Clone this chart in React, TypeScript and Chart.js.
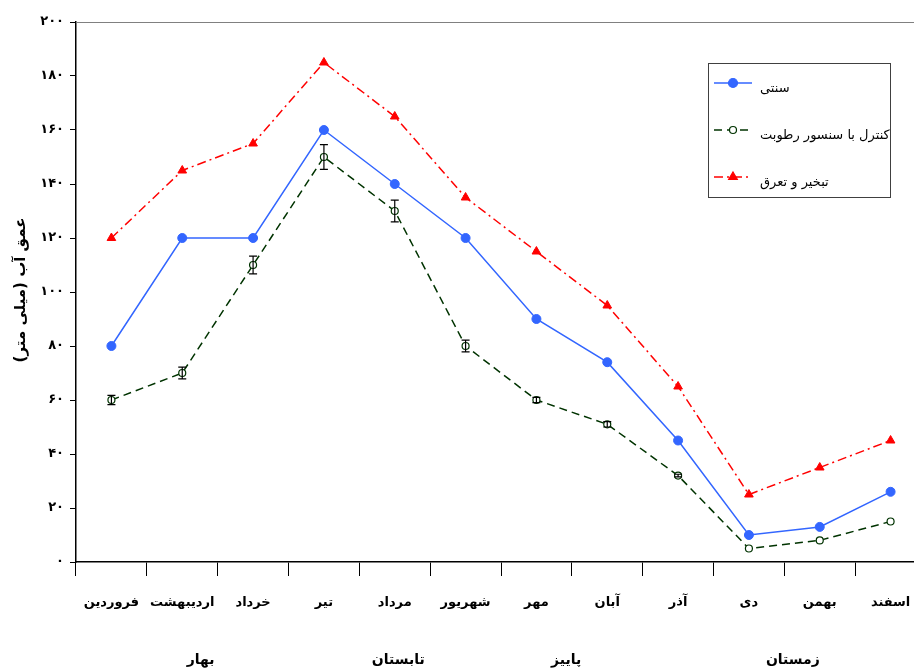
import React, { useEffect, useRef } from "react";
import { Chart, registerables } from "chart.js";

Chart.register(...registerables);

const months = ["فروردین", "اردیبهشت", "خرداد", "تیر", "مرداد", "شهریور", "مهر", "آبان", "آذر", "دی", "بهمن", "اسفند"];
const traditional = [80, 120, 120, 160, 140, 120, 90, 74, 45, 10, 13, 26];
const sensor = [60, 70, 110, 150, 130, 80, 60, 51, 32, 5, 8, 15];
const sensorError = [1.7, 2.2, 3.3, 4.6, 4, 2.2, 1, 1, 0.5, 0, 0, 0];
const evapotranspiration = [120, 145, 155, 185, 165, 135, 115, 95, 65, 25, 35, 45];
const seriesNames = ["سنتی", "کنترل با سنسور رطوبت", "تبخیر و تعرق"];
const yTickLabels = ["۰", "۲۰", "۴۰", "۶۰", "۸۰", "۱۰۰", "۱۲۰", "۱۴۰", "۱۶۰", "۱۸۰", "۲۰۰"];
const seasons = ["بهار", "تابستان", "پاییز", "زمستان"];
const seasonPositions = [1.26, 4.05, 6.42, 9.62];
const yTitle = "عمق آب (میلی متر)";

const FONT = "'DejaVu Sans', 'Noto Sans', sans-serif";

function drawMarker(ctx: CanvasRenderingContext2D, style: string, r: number, x: number, y: number, fill: string, stroke: string) {
  ctx.save();
  ctx.fillStyle = fill;
  ctx.strokeStyle = stroke;
  ctx.lineWidth = 1.2;
  ctx.setLineDash([]);
  ctx.beginPath();
  if (style === "triangle") {
    const side = (r * 3) / Math.sqrt(3);
    const h = (side * Math.sqrt(3)) / 2;
    ctx.moveTo(x, y - (2 * h) / 3);
    ctx.lineTo(x + side / 2, y + h / 3);
    ctx.lineTo(x - side / 2, y + h / 3);
    ctx.closePath();
  } else {
    ctx.arc(x, y, r, 0, Math.PI * 2);
  }
  ctx.fill();
  ctx.stroke();
  ctx.restore();
}

const overlayPlugin = {
  id: "overlay",
  beforeDatasetsDraw(chart: any) {
    const { ctx, chartArea } = chart;
    ctx.save();
    ctx.strokeStyle = "#808080";
    ctx.lineWidth = 1;
    ctx.beginPath();
    ctx.moveTo(chartArea.left, chartArea.top + 0.5);
    ctx.lineTo(chartArea.right, chartArea.top + 0.5);
    ctx.lineTo(chartArea.right, chartArea.bottom);
    ctx.stroke();
    ctx.restore();
  },
  afterDatasetsDraw(chart: any) {
    const { ctx } = chart;
    const xs = chart.scales.x;
    const ys = chart.scales.y;
    ctx.save();
    ctx.strokeStyle = "#000";
    ctx.lineWidth = 1.2;
    sensor.forEach((v, i) => {
      const e = sensorError[i];
      if (!e) return;
      const x = xs.getPixelForValue(i);
      const y1 = ys.getPixelForValue(v + e);
      const y2 = ys.getPixelForValue(v - e);
      ctx.beginPath();
      ctx.moveTo(x, y1);
      ctx.lineTo(x, y2);
      ctx.moveTo(x - 4, y1);
      ctx.lineTo(x + 4, y1);
      ctx.moveTo(x - 4, y2);
      ctx.lineTo(x + 4, y2);
      ctx.stroke();
    });
    ctx.restore();
  },
  afterDraw(chart: any) {
    const { ctx } = chart;
    const xs = chart.scales.x;
    ctx.save();
    ctx.fillStyle = "#000";
    ctx.font = `bold 14px ${FONT}`;
    ctx.textAlign = "center";
    ctx.textBaseline = "middle";
    seasons.forEach((s, i) => {
      ctx.fillText(s, xs.getPixelForValue(seasonPositions[i]), 660);
    });
    ctx.save();
    ctx.translate(21, 290);
    ctx.rotate(-Math.PI / 2);
    ctx.font = `bold 15px ${FONT}`;
    ctx.fillText(yTitle, 0, 0);
    ctx.restore();
    // legend
    ctx.fillStyle = "#fff";
    ctx.fillRect(708, 63, 182, 134);
    ctx.strokeStyle = "#404040";
    ctx.lineWidth = 1;
    ctx.strokeRect(708.5, 63.5, 182, 134);
    chart.data.datasets.forEach((ds: any, i: number) => {
      const y = 83 + i * 47;
      ctx.save();
      ctx.strokeStyle = ds.borderColor;
      ctx.lineWidth = ds.borderWidth;
      ctx.setLineDash(ds.borderDash || []);
      ctx.beginPath();
      ctx.moveTo(714, y);
      ctx.lineTo(752, y);
      ctx.stroke();
      ctx.restore();
      drawMarker(ctx, ds.pointStyle, ds.pointRadius, 733, y, ds.pointBackgroundColor, ds.pointBorderColor);
      ctx.fillStyle = "#000";
      ctx.font = `13px ${FONT}`;
      ctx.textAlign = "left";
      ctx.textBaseline = "middle";
      ctx.fillText(ds.label, 760, y + 6);
    });
    ctx.restore();
  },
};

export default function App() {
  const ref = useRef<HTMLCanvasElement>(null);
  useEffect(() => {
    if (!ref.current) return;
    const chart = new Chart(ref.current, {
      type: "line",
      data: {
        labels: months,
        datasets: [
          {
            label: seriesNames[0],
            data: traditional,
            borderColor: "#3366FF",
            borderWidth: 1.5,
            pointStyle: "circle",
            pointRadius: 4.5,
            pointBackgroundColor: "#3366FF",
            pointBorderColor: "#3366FF",
            pointBorderWidth: 1,
            tension: 0,
          },
          {
            label: seriesNames[1],
            data: sensor,
            borderColor: "#003300",
            borderWidth: 1.5,
            borderDash: [8, 5],
            pointStyle: "circle",
            pointRadius: 3.5,
            pointBackgroundColor: "#ffffff",
            pointBorderColor: "#003300",
            pointBorderWidth: 1.2,
            tension: 0,
          },
          {
            label: seriesNames[2],
            data: evapotranspiration,
            borderColor: "#FF0000",
            borderWidth: 1.5,
            borderDash: [9, 4, 2, 4],
            pointStyle: "triangle",
            pointRadius: 5,
            pointBackgroundColor: "#FF0000",
            pointBorderColor: "#FF0000",
            pointBorderWidth: 1,
            tension: 0,
          },
        ],
      },
      options: {
        responsive: false,
        animation: false,
        layout: { padding: { top: 22, right: 14, left: 0, bottom: 0 } },
        plugins: { legend: { display: false }, tooltip: { enabled: false } },
        scales: {
          x: {
            offset: true,
            grid: { drawOnChartArea: false, offset: true, tickLength: 14, color: "#000", tickColor: "#000" },
            border: { color: "#000", width: 1.5 },
            ticks: {
              color: "#000",
              padding: 19,
              autoSkip: false,
              maxRotation: 0,
              font: { family: FONT, size: 13, weight: "bold" },
            },
            afterFit: (s: any) => {
              s.height = 109;
            },
          },
          y: {
            min: 0,
            max: 200,
            grid: { drawOnChartArea: false, tickLength: 6, color: "#000", tickColor: "#000" },
            border: { color: "#000", width: 1.5 },
            ticks: {
              stepSize: 20,
              color: "#000",
              padding: 6,
              font: { family: FONT, size: 13, weight: "bold" },
              callback: (v: any) => yTickLabels[Math.round(Number(v) / 20)],
            },
            afterFit: (s: any) => {
              s.width = 76;
            },
          },
        },
      },
      plugins: [overlayPlugin],
    });
    return () => chart.destroy();
  }, []);
  return (
    <div style={{ position: "fixed", left: 0, top: 0, width: 914, height: 671, overflow: "hidden", background: "#fff" }}>
      <canvas ref={ref} width={940} height={671} style={{ display: "block" }} />
    </div>
  );
}
